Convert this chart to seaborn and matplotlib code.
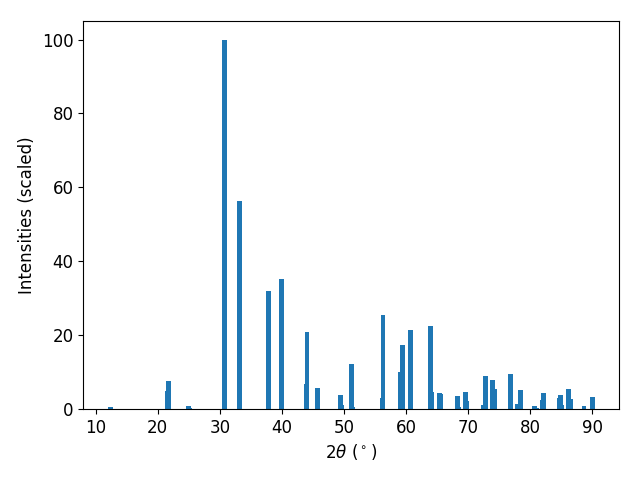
import matplotlib
matplotlib.use("Agg")
import matplotlib.pyplot as plt
import numpy as np
import pandas as pd
import seaborn as sns

# Peak positions (2theta, degrees) and scaled intensities
two_theta = [
    12.3, 21.5, 21.65, 24.9, 25.1, 30.7, 33.1, 33.25, 37.8, 39.9,
    43.9, 44.05, 45.8, 49.4, 49.6, 51.2, 51.4, 56.15, 56.3, 59.2,
    59.4, 60.8, 63.9, 64.1, 65.35, 65.5, 68.25, 68.5, 69.55, 69.7,
    72.45, 72.75, 73.9, 74.2, 76.8, 77.95, 78.45, 80.7, 81.0, 81.95,
    82.15, 84.7, 84.9, 85.1, 86.2, 86.5, 88.7, 90.0,
]
intensity = [
    0.5, 4.9, 7.6, 0.8, 0.3, 100.0, 56.3, 52.8, 32.0, 35.2,
    6.7, 20.9, 5.6, 3.8, 1.0, 12.2, 0.4, 3.0, 25.5, 10.0,
    17.3, 21.4, 22.5, 4.6, 4.3, 4.1, 3.5, 0.6, 4.6, 2.1,
    1.1, 8.9, 7.9, 5.4, 9.5, 1.4, 5.1, 0.8, 0.3, 2.4,
    4.3, 3.0, 3.8, 1.1, 5.4, 2.7, 0.8, 3.2,
]

BAR_WIDTH = 0.8  # in degrees, like plt.bar default


def plot_xrd_pattern(df: pd.DataFrame) -> None:
    fig, ax = plt.subplots(figsize=(6.4, 4.8), dpi=100)

    # seaborn scales width by the smallest gap between positions on a native scale
    min_gap = np.min(np.diff(np.unique(df["two_theta"])))
    sns.barplot(
        data=df, x="two_theta", y="intensity", native_scale=True,
        width=BAR_WIDTH / min_gap, color="#1f77b4", saturation=1,
        errorbar=None, linewidth=0, ax=ax,
    )

    ax.set_xlabel(r"$2\theta$ ($^\circ$)", fontsize=12)
    ax.set_ylabel("Intensities (scaled)", fontsize=12)
    ax.tick_params(axis="both", labelsize=12)
    ax.set_xticks(np.arange(10, 91, 10))
    ax.margins(x=0.05, y=0.05)
    ax.set_ylim(0, 105)

    fig.subplots_adjust(left=0.130, right=0.967, top=0.956, bottom=0.148)
    plt.savefig("out.png", dpi=100)
    plt.close()


if __name__ == "__main__":
    sns.set_style("ticks", {"axes.edgecolor": "black", "xtick.color": "black",
                            "ytick.color": "black", "text.color": "black",
                            "axes.labelcolor": "black"})
    plt.rcParams["font.family"] = ["DejaVu Sans"]
    data = pd.DataFrame({"two_theta": two_theta, "intensity": intensity})
    plot_xrd_pattern(data)
